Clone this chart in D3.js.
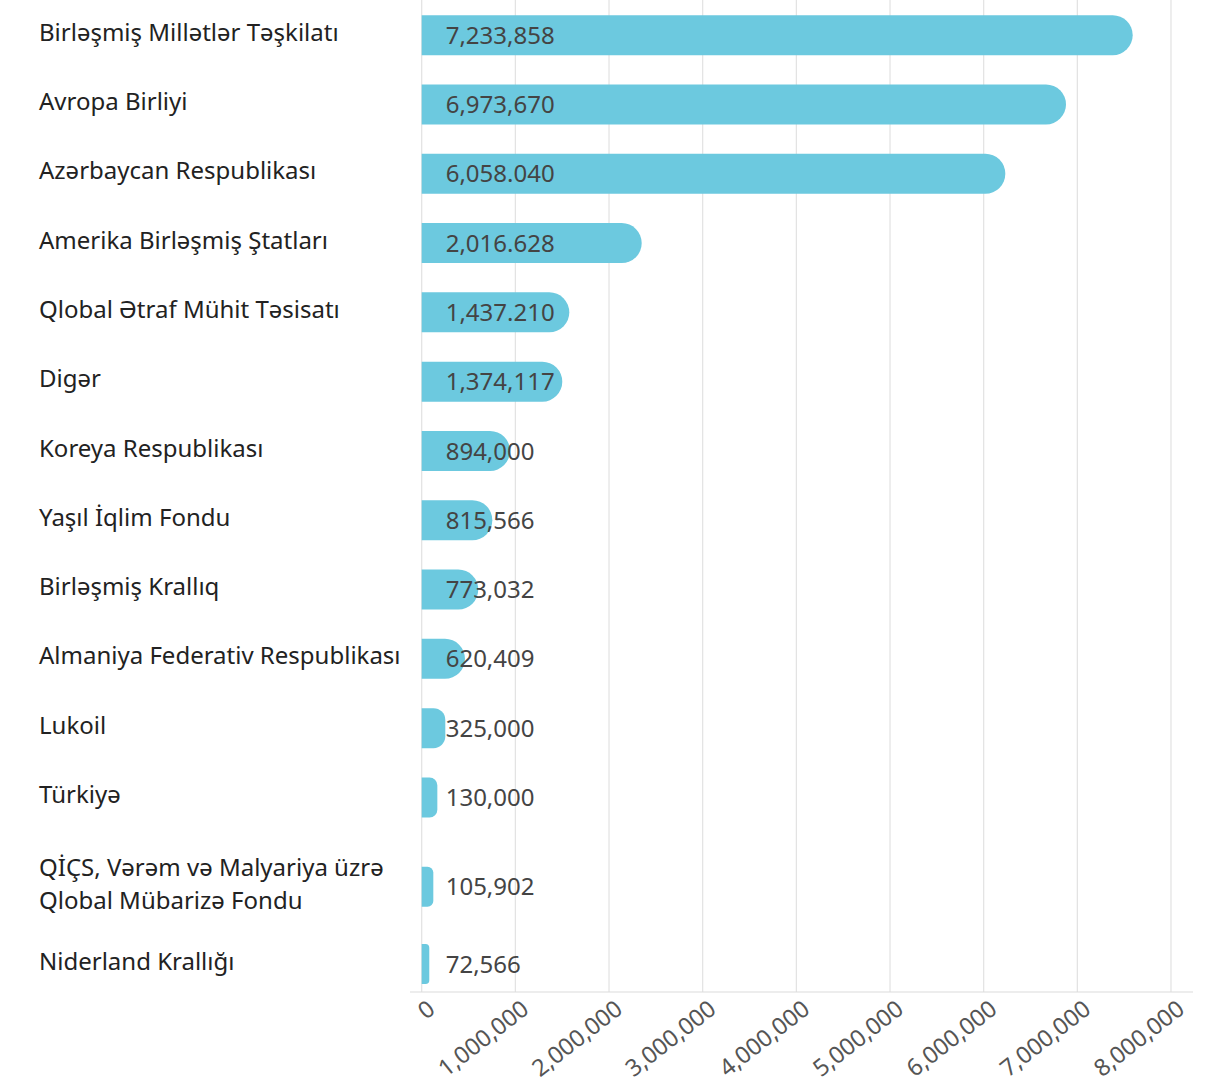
<!DOCTYPE html>
<html>
<head>
<meta charset="utf-8">
<script src="https://cdn.jsdelivr.net/npm/d3@7"></script>
<style>
    body { margin: 0; background: #fff; }
    svg { display: block; font-family: "Noto Sans", "Open Sans", sans-serif; }
</style>
</head>
<body>
<svg></svg>
<script>
// category names, one entry per line of the label
var categories = [
    ["Birləşmiş Millətlər Təşkilatı"],
    ["Avropa Birliyi"],
    ["Azərbaycan Respublikası"],
    ["Amerika Birləşmiş Ştatları"],
    ["Qlobal Ətraf Mühit Təsisatı"],
    ["Digər"],
    ["Koreya Respublikası"],
    ["Yaşıl İqlim Fondu"],
    ["Birləşmiş Krallıq"],
    ["Almaniya Federativ Respublikası"],
    ["Lukoil"],
    ["Türkiyə"],
    ["QİÇS, Vərəm və Malyariya üzrə", "Qlobal Mübarizə Fondu"],
    ["Niderland Krallığı"]
];

// value text printed on each bar (as written in the original)
var valueLabels = [
    "7,233,858", "6,973,670", "6,058.040", "2,016.628", "1,437.210",
    "1,374,117", "894,000", "815,566", "773,032", "620,409",
    "325,000", "130,000", "105,902", "72,566"
];

// bar lengths as drawn against the axis
var barValues = [
    7591000, 6879000, 6231000, 2349000, 1576000,
    1501000, 943000, 754000, 604000, 462000,
    252000, 167000, 124000, 81000
];

// axis tick values
var tickValues = [0, 1000000, 2000000, 3000000, 4000000, 5000000, 6000000, 7000000, 8000000];

var width = 1208, height = 1085;
var svg = d3.select('svg')
    .attr('width', width)
    .attr('height', height);

var rowHeight = 69.3;
var lineHeight = 33;
var barHeight = 40;
var axisY = 992;

// rows grow when the label wraps onto a second line
var rows = [];
var cursor = 0.5;
for (var i = 0; i < categories.length; i++) {
    var extra = categories[i].length - 1;
    rows.push({ center: cursor + rowHeight / 2 + extra * 20 });
    cursor += rowHeight + extra * 28;
}
function rowCenter(i) { return rows[i].center; }

var x = d3.scaleLinear()
    .domain([0, 8000000])
    .range([421.7, 1171]);

// gridlines
svg.append('g')
    .selectAll('line')
    .data(tickValues)
    .join('line')
    .attr('x1', d => x(d))
    .attr('x2', d => x(d))
    .attr('y1', 0)
    .attr('y2', axisY)
    .attr('stroke', '#e2e2e2')
    .attr('stroke-width', 1.2);

// axis baseline
svg.append('line')
    .attr('x1', 410)
    .attr('x2', 1193)
    .attr('y1', axisY)
    .attr('y2', axisY)
    .attr('stroke', '#dcdcdc')
    .attr('stroke-width', 1.2);

// tick labels, rotated
var fmt = d3.format(',');
svg.append('g')
    .selectAll('text')
    .data(tickValues)
    .join('text')
    .attr('transform', d => `translate(${x(d) + 15},${axisY + 20}) rotate(-38)`)
    .attr('text-anchor', 'end')
    .attr('font-size', 23.5)
    .attr('fill', '#555')
    .text(d => fmt(d));

// bar with a rounded right end
function barPath(x0, x1, yc) {
    var w = x1 - x0;
    var r = Math.min(barHeight / 2, w / 2);
    var y0 = yc - barHeight / 2, y1 = yc + barHeight / 2;
    return `M${x0},${y0}H${x1 - r}A${r},${r} 0 0 1 ${x1},${y0 + r}` +
        `V${y1 - r}A${r},${r} 0 0 1 ${x1 - r},${y1}H${x0}Z`;
}

svg.append('g')
    .selectAll('path')
    .data(barValues)
    .join('path')
    .attr('d', (d, i) => barPath(x(0), x(d), rowCenter(i)))
    .attr('fill', '#6cc9df');

// value labels
svg.append('g')
    .selectAll('text')
    .data(valueLabels)
    .join('text')
    .attr('x', x(0) + 24)
    .attr('y', (d, i) => rowCenter(i))
    .attr('dy', '0.36em')
    .attr('font-size', 24)
    .attr('fill', '#444')
    .text(d => d);

// category labels
var labels = svg.append('g')
    .selectAll('text')
    .data(categories)
    .join('text')
    .attr('y', (d, i) => rowCenter(i) - (d.length - 1) * lineHeight / 2 - 3)
    .attr('font-size', 24)
    .attr('fill', '#222');

labels.selectAll('tspan')
    .data(d => d)
    .join('tspan')
    .attr('x', 39)
    .attr('dy', (d, j) => j === 0 ? '0.36em' : lineHeight)
    .text(d => d);
</script>
</body>
</html>
